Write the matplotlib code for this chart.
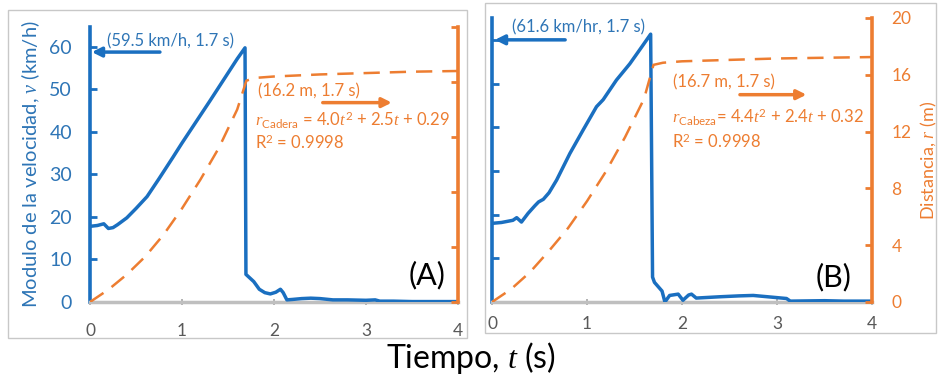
import matplotlib
matplotlib.use("Agg")
import matplotlib.pyplot as plt
from matplotlib.patches import Rectangle

plt.rcParams['font.family'] = ['Lato', 'DejaVu Sans']
plt.rcParams['mathtext.fontset'] = 'custom'
plt.rcParams['mathtext.rm'] = 'Lato'
plt.rcParams['mathtext.it'] = 'Liberation Serif:italic'
plt.rcParams['mathtext.bf'] = 'Lato:bold'

# ---------------- data ----------------
tA = [0, 0.08, 0.15, 0.2, 0.25, 0.3, 0.4, 0.5, 0.62, 0.75, 0.9, 1.0, 1.15, 1.3, 1.45, 1.6,
      1.685, 1.695, 1.72, 1.78, 1.84, 1.9, 1.96, 2.02, 2.07, 2.1, 2.14, 2.2, 2.3, 2.4, 2.5,
      2.64, 2.8, 3.0, 3.1, 3.15, 3.3, 3.5, 4.0]
vA = [17.8, 18.0, 18.4, 17.3, 17.5, 18.2, 19.8, 22.0, 24.8, 29.0, 34.0, 37.4, 42.3, 47.2, 52.2, 57.2,
      59.8, 6.5, 6.0, 4.8, 3.0, 2.2, 1.9, 2.3, 3.0, 2.2, 0.5, 0.6, 0.8, 0.9, 0.8,
      0.5, 0.5, 0.4, 0.5, 0.2, 0.2, 0.1, 0.1]

tB = [0, 0.1, 0.22, 0.26, 0.31, 0.38, 0.45, 0.49, 0.54, 0.6, 0.68, 0.82, 0.96, 1.1, 1.17, 1.31,
      1.45, 1.58, 1.67, 1.69, 1.71, 1.75, 1.79, 1.82, 1.87, 1.96, 2.01, 2.07, 2.1, 2.15, 2.4,
      2.6, 2.75, 3.0, 3.1, 3.14, 3.5, 3.7, 4.0]
vB = [18.0, 18.2, 18.7, 19.3, 18.3, 20.3, 22.0, 22.9, 23.5, 25.0, 27.9, 34.0, 39.4, 44.7, 46.3, 50.8,
      54.5, 58.5, 61.3, 5.7, 4.5, 3.5, 2.5, 0.0, 1.5, 1.8, 0.4, 1.6, 1.8, 0.9, 1.2,
      1.4, 1.5, 1.0, 0.8, 0.2, 0.3, 0.2, 0.2]

t_r = [0, 0.2, 0.4, 0.6, 0.8, 1.0, 1.2, 1.4, 1.6, 1.7, 1.8, 2.0, 2.5, 3.0, 3.5, 4.0]
rA = [0.0, 0.9, 2.0, 3.3, 4.9, 6.8, 8.9, 11.2, 14.0, 16.1, 16.3, 16.4, 16.55, 16.65, 16.75, 16.8]
rB = [0.0, 0.9, 2.1, 3.6, 5.2, 7.1, 9.2, 11.6, 14.3, 16.7, 16.85, 16.95, 17.05, 17.15, 17.2, 17.25]

x_ticks = [0, 1, 2, 3, 4]
v_ticks = [0, 10, 20, 30, 40, 50, 60]
r_ticks = [0, 4, 8, 12, 16, 20]

BLUE = '#1a6fc0'
BLUE_TXT = '#2e75b6'
ORANGE = '#ed7d31'
GRAY = '#bfbfbf'
ANN = 12

W, H = 938, 378
fig = plt.figure(figsize=(W / 100, H / 100), dpi=100)

def fx(px):
    return px / W

def fy(py):
    return 1 - py / H

# panel frames
fig.patches.append(Rectangle((fx(8), fy(338)), (467 - 8) / W, (338 - 10) / H,
                             transform=fig.transFigure, fill=False, ec='#c8c8c8', lw=1))
fig.patches.append(Rectangle((fx(485), fy(333)), (936 - 485) / W, (333 - 3) / H,
                             transform=fig.transFigure, fill=False, ec='#c8c8c8', lw=1))

def make_panel(rect, t, v, r, vtop, show_left, show_right, xpad):
    ax = fig.add_axes(rect)
    ax2 = ax.twinx()
    ax.set_xlim(0, 4)
    ax.set_ylim(0, vtop)
    ax2.set_ylim(0, 20)
    ax.plot(t, v, color=BLUE, lw=2.5, zorder=3, solid_joinstyle='round')
    ax2.plot(t_r, r, color=ORANGE, lw=1.8, dashes=(6.5, 4.0))
    for s in ['top', 'right']:
        ax.spines[s].set_visible(False)
    for s in ['top', 'left', 'bottom']:
        ax2.spines[s].set_visible(False)
    ax.spines['left'].set_color(BLUE)
    ax.spines['left'].set_linewidth(2.6)
    ax.spines['bottom'].set_color(GRAY)
    ax.spines['bottom'].set_linewidth(2.5)
    ax2.spines['right'].set_color(ORANGE)
    ax2.spines['right'].set_linewidth(2.6)
    ax.set_xticks(x_ticks)
    ax.set_yticks(v_ticks)
    ax2.set_yticks(r_ticks)
    ax.tick_params(axis='x', direction='inout', length=4, width=1.2, color='#a6a6a6',
                   labelsize=12.5, labelcolor='#595959', pad=xpad)
    ax.tick_params(axis='y', direction='in', length=5, width=2, color=BLUE,
                   labelsize=14, labelcolor=BLUE_TXT, pad=13, labelleft=show_left)
    ax2.tick_params(axis='y', direction='in', length=5, width=2, color=ORANGE,
                    labelsize=12.5, labelcolor=ORANGE, pad=14, labelright=show_right)
    ax.patch.set_visible(False)
    return ax, ax2

# Panel A
axA, axA2 = make_panel([fx(90), fy(302), (458 - 90) / W, (302 - 27) / H],
                       tA, vA, rA, 64.7, True, False, 13)
axA.set_ylabel(r'Modulo de la velocidad, $\it{v}$ (km/h)', color=BLUE_TXT, fontsize=14.5,
               labelpad=5)
axA.text(0.185, 61.4, '(59.5 km/h, 1.7 s)', color=BLUE_TXT, fontsize=ANN, va='center')
axA.annotate('', xy=(0.02, 58.8), xytext=(0.76, 58.8),
             arrowprops=dict(arrowstyle='-|>', color=BLUE, lw=2.5, mutation_scale=14,
                             shrinkA=0, shrinkB=0))
axA2.text(1.83, 15.3, '(16.2 m, 1.7 s)', color=ORANGE, fontsize=ANN, va='center')
axA2.annotate('', xy=(3.28, 14.5), xytext=(2.53, 14.5),
              arrowprops=dict(arrowstyle='-|>', color=ORANGE, lw=2.5, mutation_scale=14,
                              shrinkA=0, shrinkB=0))
axA2.text(1.79, 13.2, r'$\it{r}_{\mathrm{Cadera}}$ = 4.0$\it{t}^{2}$ + 2.5$\it{t}$ + 0.29',
          color=ORANGE, fontsize=ANN, va='center')
axA2.text(1.79, 11.6, r'R$^{2}$ = 0.9998', color=ORANGE, fontsize=ANN, va='center')
axA.text(3.66, 6.4, '(A)', fontsize=22, ha='center', va='center', color='black')

# Panel B
axB, axB2 = make_panel([fx(492), fy(302), (872 - 492) / W, (302 - 18) / H],
                       tB, vB, rB, 65.0, False, True, 8)
axB2.set_ylabel(r'Distancia, $\it{r}$ (m)', color=ORANGE, fontsize=13, labelpad=5)
axB.text(0.21, 62.9, '(61.6 km/hr, 1.7 s)', color=BLUE_TXT, fontsize=ANN, va='center')
axB.annotate('', xy=(0.03, 60.0), xytext=(0.77, 60.0),
             arrowprops=dict(arrowstyle='-|>', color=BLUE, lw=2.5, mutation_scale=14,
                             shrinkA=0, shrinkB=0))
axB2.text(1.91, 15.5, '(16.7 m, 1.7 s)', color=ORANGE, fontsize=ANN, va='center')
axB2.annotate('', xy=(3.31, 14.6), xytext=(2.61, 14.6),
              arrowprops=dict(arrowstyle='-|>', color=ORANGE, lw=2.5, mutation_scale=14,
                              shrinkA=0, shrinkB=0))
axB2.text(1.9, 13.0, r'$\it{r}_{\mathrm{Cabeza}}$= 4.4$\it{t}^{2}$ + 2.4$\it{t}$ + 0.32',
          color=ORANGE, fontsize=ANN, va='center')
axB2.text(1.9, 11.3, r'R$^{2}$ = 0.9998', color=ORANGE, fontsize=ANN, va='center')
axB.text(3.6, 5.7, '(B)', fontsize=22, ha='center', va='center', color='black')

fig.text(fx(471), fy(358), r'Tiempo, $\it{t}$ (s)', fontsize=23, ha='center', va='center',
         color='black')

fig.savefig('out.png', dpi=100)
